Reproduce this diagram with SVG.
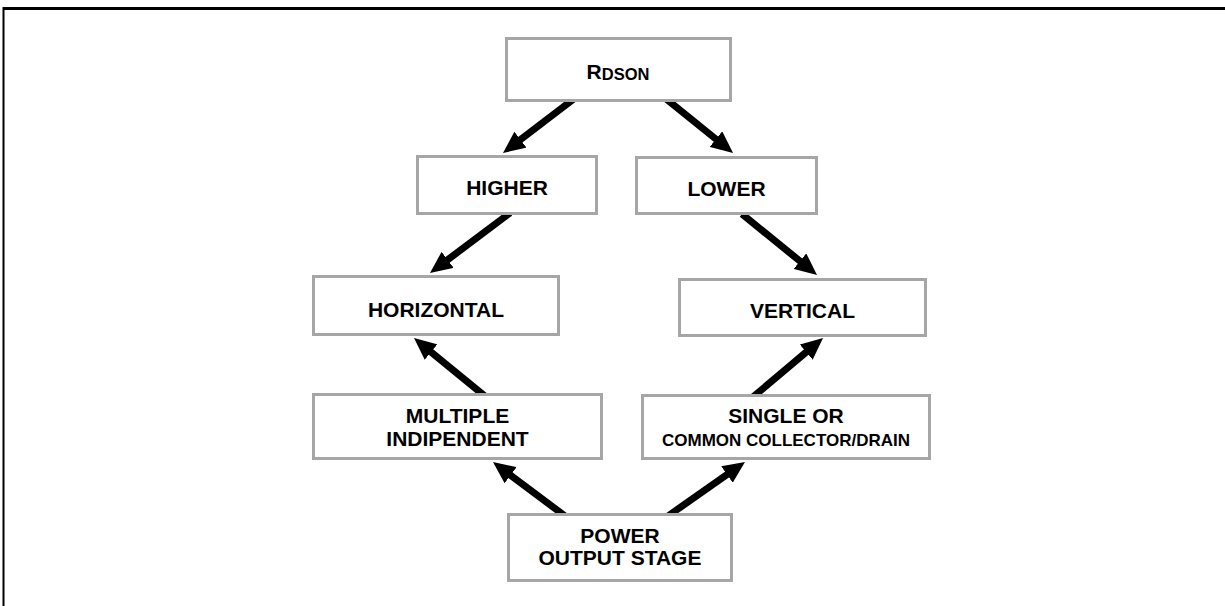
<svg xmlns="http://www.w3.org/2000/svg" width="1225" height="606" viewBox="0 0 1225 606">
<style>
.box{fill:#fff;stroke:#a6a6a6;stroke-width:3}
.t{font-family:"Liberation Sans",Arial,sans-serif;font-weight:bold;font-size:21px;fill:#000;text-anchor:middle}
.s{font-size:17px}
.arr{stroke:#000;stroke-width:7;fill:none;marker-end:url(#ah)}
</style>
<defs>
<marker id="ah" viewBox="0 0 22 20" markerWidth="22" markerHeight="20" markerUnits="userSpaceOnUse" refX="6" refY="10" orient="auto">
<path d="M0,0 L22,10 L0,20 z" fill="#000"/>
</marker>
</defs>
<rect width="1225" height="606" fill="#fff"/>
<g id="frame" stroke="#000" fill="none">
<line x1="3" y1="8.5" x2="1225" y2="8.5" stroke-width="3"/>
<line x1="3.5" y1="7" x2="3.5" y2="606" stroke-width="2"/>
</g>
<g id="connectors">
<line class="arr" x1="575" y1="98" x2="515.7" y2="143.3"/>
<line class="arr" x1="665" y1="98" x2="720.6" y2="142.9"/>
<line class="arr" x1="510" y1="213" x2="442.8" y2="263.4"/>
<line class="arr" x1="742" y1="214" x2="804.6" y2="264.9"/>
<line class="arr" x1="486" y1="397" x2="426.4" y2="348.2"/>
<line class="arr" x1="753" y1="397" x2="810.8" y2="348.3"/>
<line class="arr" x1="565" y1="516" x2="505.8" y2="471.6"/>
<line class="arr" x1="668" y1="516" x2="731.9" y2="471.1"/>
</g>
<g id="rdson">
<rect class="box" x="506.5" y="38.5" width="224" height="62"/>
<text class="t" x="618" y="79"><tspan font-size="21">R</tspan><tspan font-size="16.5" dy="1">DSON</tspan></text>
</g>
<g id="higher">
<rect class="box" x="417.5" y="156.5" width="179" height="57"/>
<text class="t" x="507" y="195">HIGHER</text>
</g>
<g id="lower">
<rect class="box" x="636.5" y="157.5" width="180" height="56"/>
<text class="t" x="726.5" y="196">LOWER</text>
</g>
<g id="horizontal">
<rect class="box" x="313.5" y="276.5" width="245" height="58"/>
<text class="t" x="436" y="317">HORIZONTAL</text>
</g>
<g id="vertical">
<rect class="box" x="679.5" y="279.5" width="246" height="56"/>
<text class="t" x="802.5" y="318">VERTICAL</text>
</g>
<g id="multiple">
<rect class="box" x="313.5" y="394.5" width="288" height="64"/>
<text class="t" x="457.5" y="423">MULTIPLE</text>
<text class="t" x="457.5" y="446">INDIPENDENT</text>
</g>
<g id="single">
<rect class="box" x="642.5" y="395.5" width="287" height="63"/>
<text class="t" x="786" y="423">SINGLE OR</text>
<text class="t s" x="786" y="446">COMMON COLLECTOR/DRAIN</text>
</g>
<g id="power">
<rect class="box" x="508.5" y="514.5" width="223" height="66"/>
<text class="t" x="620" y="543">POWER</text>
<text class="t" x="620" y="565">OUTPUT STAGE</text>
</g>
</svg>
